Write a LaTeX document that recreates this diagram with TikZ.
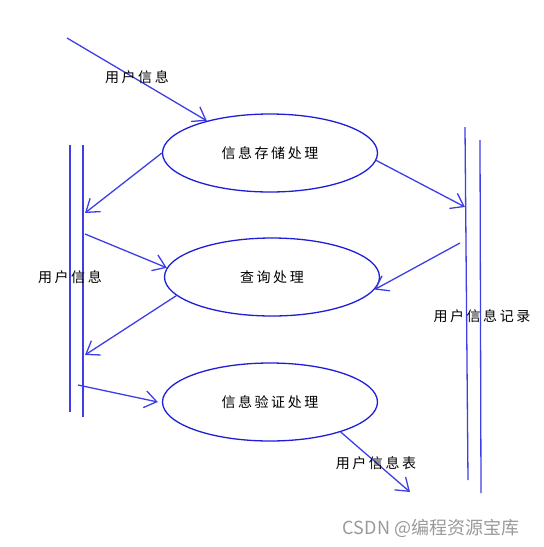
\documentclass[tikz,border=0pt]{standalone}
\usepackage{fontspec}
\newfontfamily\cjk[LetterSpace=18]{Noto Sans CJK SC}
\newfontfamily\cjkmark{Noto Sans CJK SC}
\usetikzlibrary{shapes.geometric, arrows.meta}
\definecolor{lineblue}{RGB}{62,62,232}
\definecolor{ovalblue}{RGB}{30,30,215}

\begin{document}
\begin{tikzpicture}[x=1pt, y=-1pt,
	proc/.style={ellipse, draw=ovalblue, line width=1.3pt, minimum width=215pt,
		minimum height=78pt, inner sep=0pt, font=\cjk\fontsize{14}{16}\selectfont},
	flow/.style={draw=lineblue, line width=1.3pt, -{Straight Barb[length=12pt,width=17pt]}},
	storeline/.style={draw=lineblue, line width=1.3pt},
	lbl/.style={font=\cjk\fontsize{14}{16}\selectfont, text=black, inner sep=0pt}]
	\useasboundingbox (0,0) rectangle (544,547);

	% processes
	\node[proc] (save) at (270,153) {信息存储处理};
	\node[proc] (query) at (272,277) {查询处理};
	\node[proc] (check) at (270,402) {信息验证处理};

	% data stores
	\coordinate (la1) at (70,145);  \coordinate (la2) at (70,412);
	\coordinate (lb1) at (83,145);  \coordinate (lb2) at (83,417);
	\coordinate (ra1) at (465,127); \coordinate (ra2) at (468,480);
	\coordinate (rb1) at (480,140); \coordinate (rb2) at (481,493);
	\draw[storeline] (la1) -- (la2);
	\draw[storeline] (lb1) -- (lb2);
	\draw[storeline] (ra1) -- (ra2);
	\draw[storeline] (rb1) -- (rb2);

	% flows
	\coordinate (src) at (67,38);
	\coordinate (l1) at (85,213);
	\coordinate (l2) at (85,234);
	\coordinate (l3) at (85,355);
	\coordinate (l4) at (78,385);
	\coordinate (r1) at (465,207);
	\coordinate (r2) at (460,243);
	\coordinate (out) at (410,492);
	\draw[flow] (src) -- (save.153);
	\draw[flow] (save.west) -- (l1);
	\draw[flow] (l2) -- (query.175);
	\draw[flow] (query.191) -- (l3);
	\draw[flow] (l4) -- ([xshift=-4pt]check.west);
	\draw[flow] (save.356) -- (r1);
	\draw[flow] (r2) -- (query.353);
	\draw[flow] (check.337) -- (out);

	% labels
	\node[lbl] (inlbl) at (137,77) {用户信息};
	\node[lbl] (leftlbl) at (70,277) {用户信息};
	\node[lbl] (rightlbl) at (482,316) {用户信息记录};
	\node[lbl] (outlbl) at (376,463) {用户信息表};
	\node[font=\cjkmark\fontsize{18}{20}\selectfont, text=black!40, inner sep=0pt] (mark) at (431,528) {CSDN @编程资源宝库};
\end{tikzpicture}
\end{document}
